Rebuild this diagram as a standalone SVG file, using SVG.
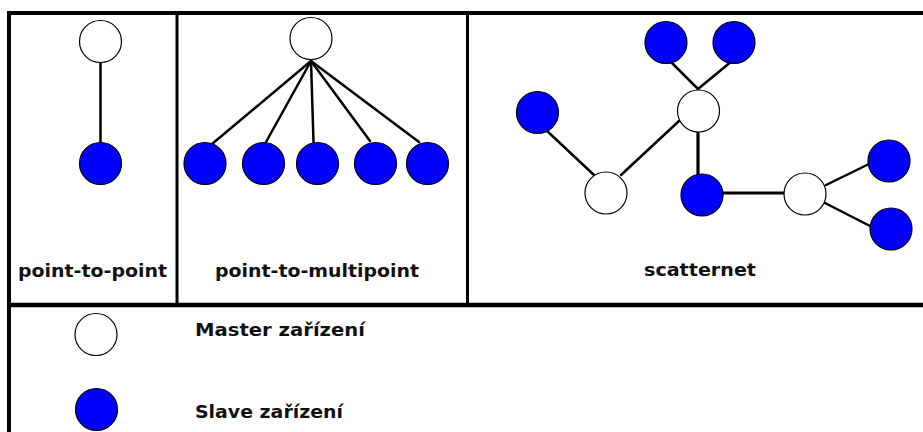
<svg xmlns="http://www.w3.org/2000/svg" width="923" height="432" viewBox="0 0 923 432">
<style>
.frame{fill:none;stroke:#000;stroke-width:4}
.div{stroke:#000;stroke-width:3}
.master{fill:#fff;stroke:#000;stroke-width:1.2}
.slave{fill:#0000ff;stroke:#000;stroke-width:1.2}
.link{stroke:#000;stroke-width:2.5;stroke-linecap:round}
.lbl{font-family:"DejaVu Sans",Verdana,sans-serif;font-weight:bold;font-size:18.5px;fill:#111}
</style>
<rect width="923" height="432" fill="#fff"/>
<g id="frame">
<rect class="frame" x="9" y="13" width="930" height="440"/>
<line class="div" x1="177" y1="13" x2="177" y2="305"/>
<line class="div" x1="467.5" y1="13" x2="467.5" y2="305"/>
<line class="frame" x1="9" y1="305" x2="923" y2="305" style="stroke-width:4.5"/>
</g>
<g id="connectors">
<line class="link" x1="100.5" y1="62" x2="100.5" y2="143"/>
<line class="link" x1="311" y1="61" x2="212" y2="144"/>
<line class="link" x1="311" y1="61" x2="266" y2="142"/>
<line class="link" x1="311" y1="61" x2="313.5" y2="142"/>
<line class="link" x1="311" y1="61" x2="370" y2="141"/>
<line class="link" x1="311" y1="61" x2="419" y2="142"/>
<line class="link" x1="669" y1="60" x2="698" y2="89"/>
<line class="link" x1="732" y1="61" x2="698" y2="89"/>
<line class="link" x1="546" y1="130" x2="594" y2="175"/>
<line class="link" x1="621" y1="175" x2="679" y2="121"/>
<line class="link" x1="698" y1="130" x2="698" y2="175" style="stroke-width:3.2"/>
<line class="link" x1="723" y1="193" x2="785" y2="193" style="stroke-width:3"/>
<line class="link" x1="826" y1="185" x2="869" y2="164"/>
<line class="link" x1="825" y1="203" x2="870" y2="226"/>
</g>
<g id="p2p-master"><circle class="master" cx="100.5" cy="41.5" r="21"/></g>
<g id="p2p-slave"><circle class="slave" cx="100.5" cy="163.5" r="21"/></g>
<g id="p2m-master"><circle class="master" cx="311" cy="38.5" r="21"/></g>
<g id="p2m-slave1"><circle class="slave" cx="205" cy="163.5" r="21"/></g>
<g id="p2m-slave2"><circle class="slave" cx="263.5" cy="163.5" r="21"/></g>
<g id="p2m-slave3"><circle class="slave" cx="317.5" cy="163.5" r="21"/></g>
<g id="p2m-slave4"><circle class="slave" cx="375.5" cy="163.5" r="21"/></g>
<g id="p2m-slave5"><circle class="slave" cx="427.5" cy="163.5" r="21"/></g>
<g id="sc-slave-top1"><circle class="slave" cx="666" cy="42.5" r="21"/></g>
<g id="sc-slave-top2"><circle class="slave" cx="734" cy="42.5" r="21"/></g>
<g id="sc-slave-left"><circle class="slave" cx="537.5" cy="112.5" r="21"/></g>
<g id="sc-master-center"><circle class="master" cx="698.5" cy="111" r="21"/></g>
<g id="sc-master-left"><circle class="master" cx="606" cy="193" r="21"/></g>
<g id="sc-slave-mid"><circle class="slave" cx="702" cy="195" r="21"/></g>
<g id="sc-master-right"><circle class="master" cx="805" cy="194" r="21"/></g>
<g id="sc-slave-right1"><circle class="slave" cx="889" cy="161" r="21"/></g>
<g id="sc-slave-right2"><circle class="slave" cx="891" cy="229" r="21"/></g>
<g id="labels">
<text class="lbl" x="18" y="277" textLength="149" lengthAdjust="spacingAndGlyphs">point-to-point</text>
<text class="lbl" x="215" y="277" textLength="204" lengthAdjust="spacingAndGlyphs">point-to-multipoint</text>
<text class="lbl" x="644" y="276" textLength="112" lengthAdjust="spacingAndGlyphs">scatternet</text>
</g>
<g id="legend-master"><circle class="master" cx="96" cy="334.5" r="21"/>
<text class="lbl" x="195" y="336" textLength="170" lengthAdjust="spacingAndGlyphs">Master zařízení</text></g>
<g id="legend-slave"><circle class="slave" cx="96.5" cy="409.5" r="21"/>
<text class="lbl" x="195" y="418" textLength="148" lengthAdjust="spacingAndGlyphs">Slave zařízení</text></g>
</svg>
